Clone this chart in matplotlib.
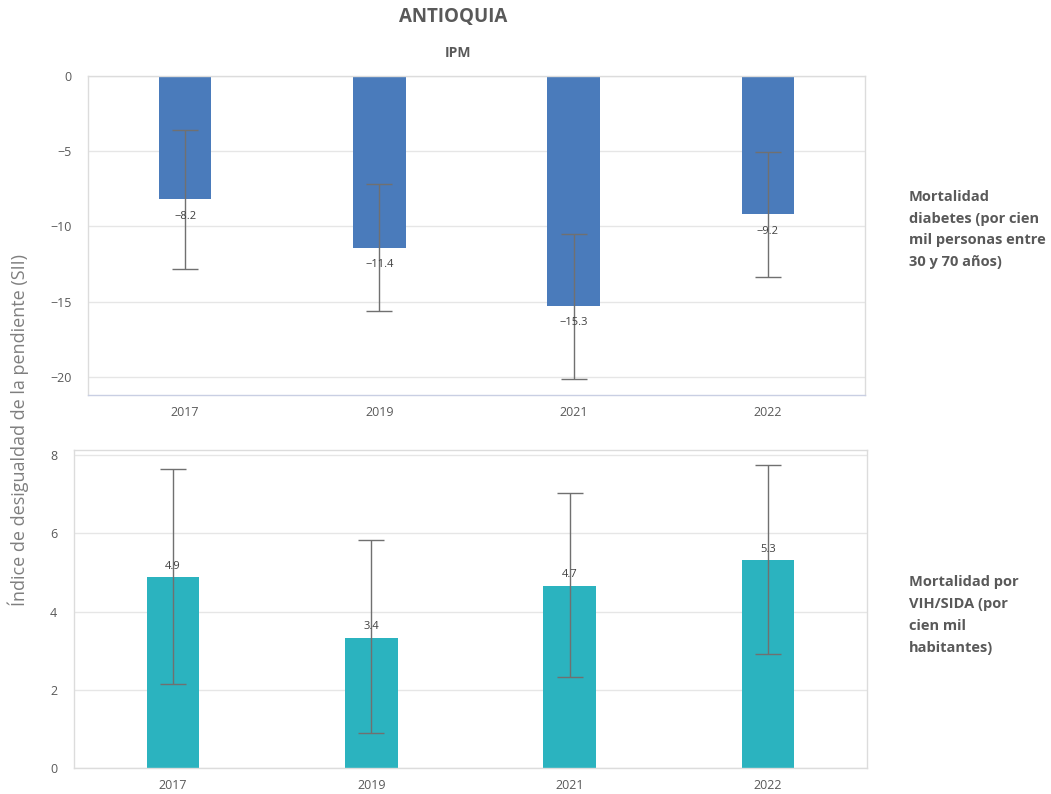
import matplotlib.pyplot as plt
import numpy as np

plt.rcParams['font.family'] = ['Open Sans', 'DejaVu Sans']

years = ['2017', '2019', '2021', '2022']

# Mortalidad diabetes
diab_vals = [-8.2, -11.4, -15.3, -9.2]
diab_low = [-12.8, -15.65, -20.15, -13.35]
diab_high = [-3.6, -7.15, -10.5, -5.05]
diab_labels = ['−8.2', '−11.4', '−15.3', '−9.2']

# Mortalidad VIH/SIDA
vih_vals = [4.88, 3.33, 4.66, 5.31]
vih_low = [2.15, 0.9, 2.33, 2.91]
vih_high = [7.64, 5.82, 7.02, 7.74]
vih_labels = ['4.9', '3.4', '4.7', '5.3']

grey_txt = '#595959'
fig = plt.figure(figsize=(10.51, 7.94), dpi=100)
ax1 = fig.add_axes([0.0837, 0.5025, 0.7393, 0.4018])
ax2 = fig.add_axes([0.0704, 0.0327, 0.7545, 0.4005])

def draw(ax, vals, low, high, labels, color, ylim, yticks, neg, width):
    x = np.arange(len(vals))
    vals = np.array(vals)
    err = [vals - np.array(low), np.array(high) - vals]
    ax.bar(x, vals, width=width, color=color, zorder=2)
    ax.errorbar(x, vals, yerr=err, fmt='none', ecolor='#707070', elinewidth=1,
                capsize=9.5, capthick=1, zorder=3)
    for xi, v, lab in zip(x, vals, labels):
        if neg:
            ax.annotate(lab, (xi, v), xytext=(0, -12), textcoords='offset points',
                        ha='center', va='center', fontsize=8, color='#404040', zorder=4)
        else:
            ax.annotate(lab, (xi, v), xytext=(0, 8), textcoords='offset points',
                        ha='center', va='center', fontsize=8, color='#404040', zorder=4)
    ax.set_xlim(-0.5, len(vals) - 0.5)
    ax.set_ylim(*ylim)
    ax.set_yticks(yticks)
    ax.set_xticks(x)
    ax.set_xticklabels(years)
    ax.tick_params(length=0, labelsize=9, colors=grey_txt)
    ax.tick_params(axis='y', pad=12)
    ax.tick_params(axis='x', pad=8)
    ax.grid(axis='y', color='#e6e6e6', linewidth=1, zorder=0)
    for s in ax.spines.values():
        s.set_color('#dcdcdc')
        s.set_linewidth(1)

draw(ax1, diab_vals, diab_low, diab_high, diab_labels, '#4a7bbb', (-21.2, 0),
     [0, -5, -10, -15, -20], True, 0.27)
ax1.spines['bottom'].set_color('#c9cfe3')
draw(ax2, vih_vals, vih_low, vih_high, vih_labels, '#2bb3bf', (0, 8.13),
     [0, 2, 4, 6, 8], False, 0.265)

fig.text(0.431, 0.978, 'ANTIOQUIA', ha='center', va='center', fontsize=13.5,
         fontweight='bold', color=grey_txt)
fig.text(0.436, 0.933, 'IPM', ha='center', va='center', fontsize=10,
         fontweight='bold', color=grey_txt)
fig.text(0.017, 0.458, 'Índice de desigualdad de la pendiente (SII)', rotation=90,
         ha='center', va='center', fontsize=13, color='#7f7f7f')

fig.text(0.865, 0.711, 'Mortalidad\ndiabetes (por cien\nmil personas entre\n30 y 70 años)',
         ha='left', va='center', fontsize=10.5, fontweight='bold', color=grey_txt,
         linespacing=1.72)
fig.text(0.865, 0.225, 'Mortalidad por\nVIH/SIDA (por\ncien mil\nhabitantes)',
         ha='left', va='center', fontsize=10.5, fontweight='bold', color=grey_txt,
         linespacing=1.72)

fig.savefig('out.png', dpi=100)
